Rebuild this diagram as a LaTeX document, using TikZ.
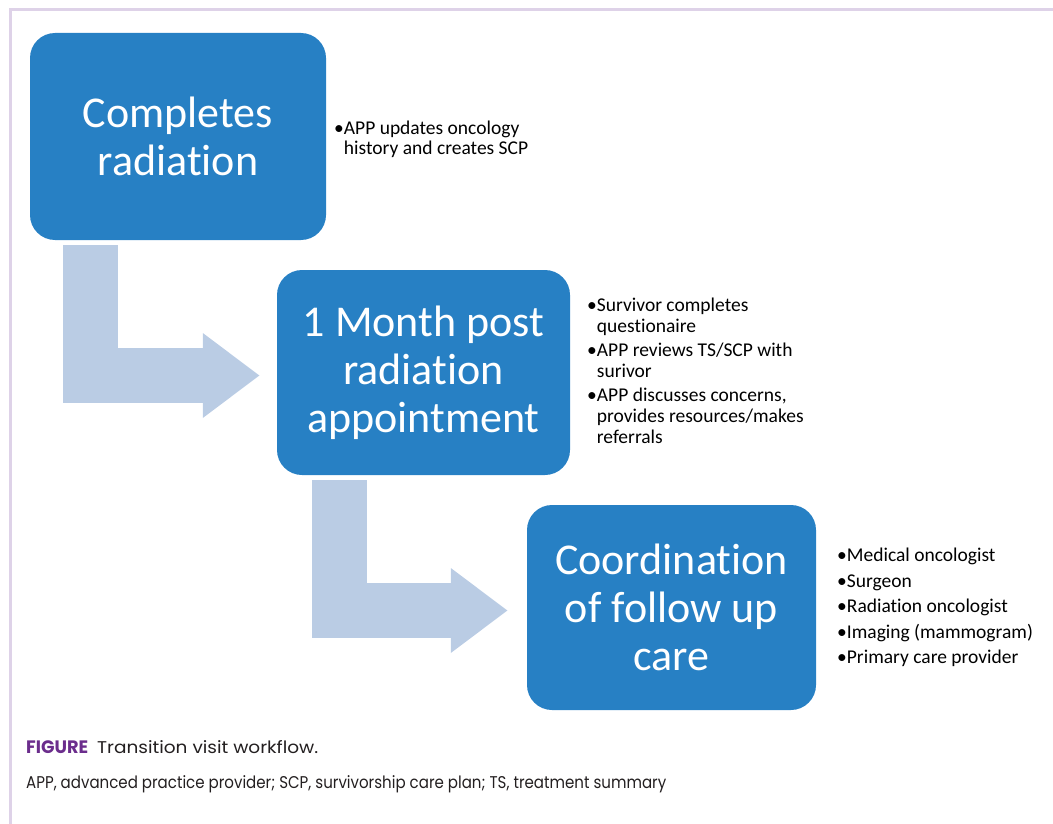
\documentclass[tikz,border=0pt]{standalone}
\usepackage{fontspec}
\usepackage{graphicx}
\setmainfont{Carlito}[Ligatures=NoCommon]
\newfontfamily\capfont{Poppins}
\usetikzlibrary{arrows.meta,calc}
\definecolor{stepblue}{RGB}{39,128,196}
\definecolor{flowgrey}{RGB}{186,204,228}
\definecolor{framepurple}{RGB}{222,210,232}
\definecolor{figpurple}{RGB}{107,45,140}
\definecolor{captext}{RGB}{35,31,32}
\tikzset{
  stepbox/.style={fill=stepblue, text=white, rounded corners=25pt, align=center,
    inner sep=0pt, font=\fontsize{44}{48}\selectfont},
  bentflow/.style={draw=flowgrey, line width=55pt, line join=miter,
    -{Triangle[length=57pt,width=81pt]}},
  notes/.style={anchor=north west, align=left, inner sep=0pt},
  caption/.style={anchor=base west, inner sep=0pt, text=captext,
    font=\capfont\fontsize{17}{20}\selectfont}
}

\begin{document}
\begin{tikzpicture}[x=1pt, y=-1pt]
\useasboundingbox (0,0) rectangle (1053,824);
% frame
\draw[framepurple, line width=3pt] (10,824) -- (10,10) -- (1053,10);

% steps
\node[stepbox, minimum width=296pt, minimum height=207pt] (complete) at (178,136.5) {Completes\\radiation};
\node[stepbox, minimum width=293pt, minimum height=205pt] (month) at (423.5,372.5) {1 Month post\\radiation\\appointment};
\node[stepbox, minimum width=289pt, minimum height=205pt] (followup) at (671.5,607.5) {Coordination\\of follow up\\care};

% flow arrows
\draw[bentflow] ($(complete.south west)+(60.5,5)$) |- ($(month.west)+(-17,3)$);
\draw[bentflow] ($(month.south west)+(62.5,5)$) |- ($(followup.west)+(-19,3)$);

% notes
\node[notes, font=\fontsize{19.5}{20}\selectfont] (completenotes) at (334,121) {%
  •APP updates oncology\\\hphantom{•}history and creates SCP};
\node[notes, font=\fontsize{19.5}{21}\selectfont] (monthnotes) at (587,298) {%
  •Survivor completes\\\hphantom{•}questionaire\\[3pt]%
  •APP reviews TS/SCP with\\\hphantom{•}surivor\\[3pt]%
  •APP discusses concerns,\\\hphantom{•}provides resources/makes\\\hphantom{•}referrals};
\node[notes, font=\fontsize{19.5}{25.5}\selectfont] (followupnotes) at (837,548) {%
  •Medical oncologist\\•Surgeon\\•Radiation oncologist\\•Imaging (mammogram)\\•Primary care provider};

% caption
\node[caption, text=figpurple, font=\capfont\bfseries\fontsize{18}{20}\selectfont] (figtag) at (26,753) {\resizebox{62pt}{\height}{FIGURE}};
\node[caption] (figtitle) at (97,753) {\resizebox{221pt}{\height}{Transition visit workflow.}};
\node[caption] (abbrev) at (26,788) {\resizebox{640pt}{\height}{APP, advanced practice provider; SCP, survivorship care plan; TS, treatment summary}};
\end{tikzpicture}
\end{document}
